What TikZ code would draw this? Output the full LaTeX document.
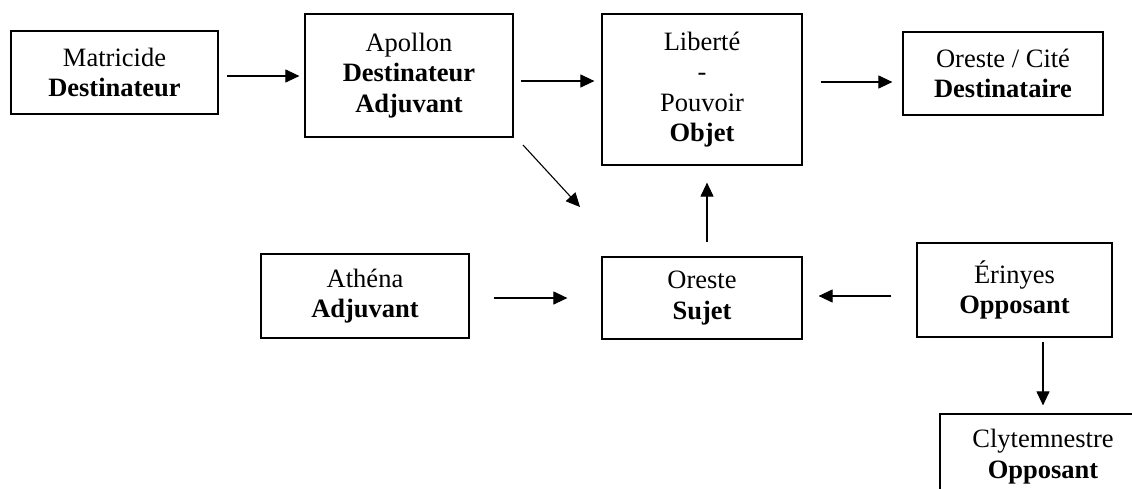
\documentclass[tikz,border=0pt]{standalone}
\usepackage{fontspec}
\setmainfont{Liberation Serif}
\usetikzlibrary{arrows.meta,calc}
\begin{document}
\begin{tikzpicture}[x=1pt,y=-1pt,
  box/.style={draw=black,line width=1.2pt,rectangle,inner sep=0pt,align=center,
    font=\fontsize{26.5}{30.5}\selectfont},
  arr/.style={line width=1.1pt,-{Triangle[length=14pt,width=13pt]}}]
\clip (0,0) rectangle (1132,488);
\fill[white] (0,0) rectangle (1132,488);
\node[box,minimum width=207pt,minimum height=83pt] (mat) at (114.5,72.5) {Matricide\\\textbf{Destinateur}};
\node[box,minimum width=208pt,minimum height=123pt] (apo) at (409,75.5) {Apollon\\\textbf{Destinateur}\\\textbf{Adjuvant}};
\node[box,minimum width=200pt,minimum height=151pt] (lib) at (702,89.5) {Libert\'e\\-\\Pouvoir\\\textbf{Objet}};
\node[box,minimum width=200pt,minimum height=83pt] (cit) at (1003,73.5) {Oreste / Cit\'e\\\textbf{Destinataire}};
\node[box,minimum width=208pt,minimum height=84pt] (ath) at (365,296) {Ath\'ena\\\textbf{Adjuvant}};
\node[box,minimum width=200pt,minimum height=82pt] (ore) at (702,298) {Oreste\\\textbf{Sujet}};
\node[box,minimum width=195pt,minimum height=94pt] (eri) at (1014.5,290) {\'Erinyes\\\textbf{Opposant}};
\node[box,minimum width=206pt,minimum height=85pt] (cly) at (1043,456.5) {Clytemnestre\\\textbf{Opposant}};
\coordinate (diagS) at (523,145);
\coordinate (diagE) at (580,207);
\draw[arr,shorten <=8pt,shorten >=5pt] (mat.east |- 0,76) -- (apo.west |- 0,76);
\draw[arr,shorten <=7pt,shorten >=7pt] (apo.east |- 0,81) -- (lib.west |- 0,81);
\draw[arr,shorten <=18pt,shorten >=10pt] (lib.east |- 0,82) -- (cit.west |- 0,82);
\draw[arr] (diagS) -- (diagE);
\draw[arr,shorten <=24pt,shorten >=34pt] (ath.east |- 0,298) -- (ore.west |- 0,298);
\draw[arr,shorten <=14pt,shorten >=17pt] (ore.north -| 707,0) -- (lib.south -| 707,0);
\draw[arr,shorten <=25pt,shorten >=16pt] (eri.west |- 0,296) -- (ore.east |- 0,296);
\draw[arr,shorten <=4pt,shorten >=8pt] (eri.south -| 1043,0) -- (cly.north -| 1043,0);
\end{tikzpicture}
\end{document}
